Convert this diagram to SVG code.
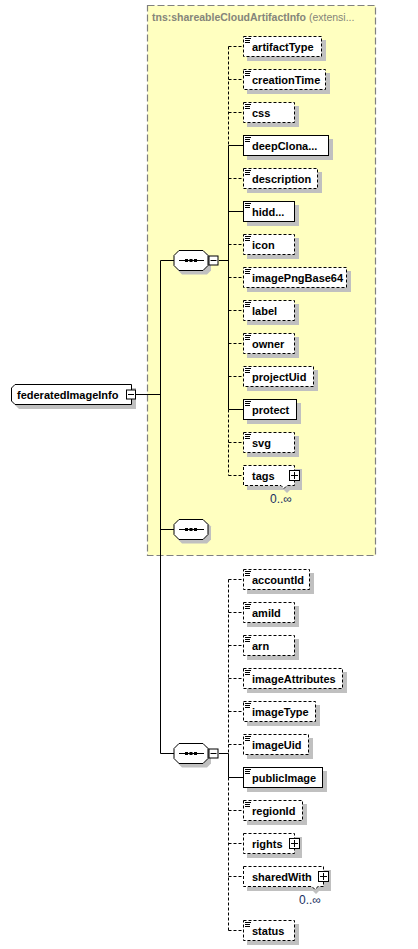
<svg xmlns="http://www.w3.org/2000/svg" width="418" height="949" viewBox="0 0 418 949">
<style>
.bg{fill:#ffffff}
.ext{fill:#ffffc0;stroke:#808080;stroke-width:1.2;stroke-dasharray:7,3}
.title{font-family:"Liberation Sans",Arial,sans-serif;font-size:10.5px;fill:#85857a}
.sh{fill:#c0c0c0}
.box{fill:#ffffff;stroke:#000;stroke-width:1}
.opt{stroke-dasharray:3,2}
.t{font-family:"Liberation Sans",Arial,sans-serif;font-size:11px;font-weight:bold;fill:#000}
.occ{font-family:"Liberation Sans",Arial,sans-serif;font-size:12px;fill:#203060}
.ln{stroke:#000;stroke-width:1;fill:none}
.dl{stroke:#000;stroke-width:1;fill:none;stroke-dasharray:3,2}
.ico{stroke:#000;stroke-width:1}
</style>
<defs>
<g id="doc"><path class="ico" d="M2,2.5H8M2,4.5H7M2,6.5H7"/></g>
<g id="minus"><rect x="0.5" y="0.5" width="9" height="9" class="box"/><path class="ico" d="M2,5H8"/></g>
<g id="plus"><rect x="0.5" y="0.5" width="10" height="10" class="box"/><path class="ico" d="M2,5.5H9M5.5,2V9"/></g>
<g id="seq">
<path class="sh" d="M182,-7H207L211,-3V10L207,14H182L178,10V-3Z"/>
<path class="box" d="M179,-10H203L208,-5V5L203,10H179L174,5V-5Z"/>
<path class="ico" d="M179,0H204"/>
<rect x="185" y="-1.5" width="3" height="3" fill="#000"/>
<rect x="189.5" y="-1.5" width="3" height="3" fill="#000"/>
<rect x="194" y="-1.5" width="3" height="3" fill="#000"/>
</g>
</defs>
<rect class="bg" x="0" y="0" width="418" height="949"/>
<g id="extension">
<rect class="ext" x="147.5" y="5.5" width="228" height="550"/>
<text class="title" x="152" y="21"><tspan font-weight="bold">tns:shareableCloudArtifactInfo</tspan> (extensi...</text>
</g>

<g id="connectors">
<path class="ln" d="M136,394.5H160.5M160.5,260.5V753.5M160.5,260.5H174M160.5,529.5H174M160.5,753.5H174M219,260.5H228.5M219,753.5H228.5"/>
<path class="dl" d="M228.5,46.5V145.5M228.5,409.5V475.5"/>
<path class="ln" d="M228.5,145.5V409.5"/>
<path class="dl" d="M228.5,46.5H243M228.5,79.5H243M228.5,112.5H243M228.5,178.5H243M228.5,244.5H243M228.5,277.5H243M228.5,310.5H243M228.5,343.5H243M228.5,376.5H243M228.5,442.5H243M228.5,475.5H243"/>
<path class="ln" d="M228.5,145.5H243M228.5,211.5H243M228.5,409.5H243"/>
<path class="dl" d="M228.5,579.5V753.5M228.5,777.5V930.5"/>
<path class="ln" d="M228.5,753.5V777.5M228.5,777.5H243"/>
<path class="dl" d="M228.5,579.5H243M228.5,612.5H243M228.5,645.5H243M228.5,678.5H243M228.5,711.5H243M228.5,744.5H243M228.5,810.5H243M228.5,843.5H243M228.5,876.5H243M228.5,930.5H243"/>
</g>

<g id="federatedImageInfo">
<path class="sh" d="M19,388H136V409H19L15,405V392Z"/>
<path class="box" d="M15,384.5H131.5V404.5H15L11.5,401V388Z"/>
<text class="t" x="17" y="398.5">federatedImageInfo</text>
<use href="#minus" x="126" y="389.5"/>
</g>

<g id="sequence1"><use href="#seq" y="260.5"/><use href="#minus" x="208.5" y="255.5"/></g>
<g id="sequence2"><use href="#seq" y="529.5"/></g>
<g id="sequence3"><use href="#seq" y="753.5"/><use href="#minus" x="208.5" y="748.5"/></g>

<g id="artifactType"><rect class="sh" x="247" y="40" width="79" height="21"/><rect class="box opt" x="243.5" y="36.5" width="78" height="20"/><use href="#doc" x="243" y="36"/><text class="t" x="252" y="51">artifactType</text></g>
<g id="creationTime"><rect class="sh" x="247" y="73" width="83" height="21"/><rect class="box opt" x="243.5" y="69.5" width="82" height="20"/><use href="#doc" x="243" y="69"/><text class="t" x="252" y="84">creationTime</text></g>
<g id="css"><rect class="sh" x="247" y="106" width="52" height="21"/><rect class="box opt" x="243.5" y="102.5" width="51" height="20"/><use href="#doc" x="243" y="102"/><text class="t" x="252" y="117">css</text></g>
<g id="deepClonable"><rect class="sh" x="247" y="139" width="86" height="21"/><rect class="box" x="243.5" y="135.5" width="85" height="20"/><use href="#doc" x="243" y="135"/><text class="t" x="252" y="150">deepClona...</text></g>
<g id="description"><rect class="sh" x="247" y="172" width="75" height="21"/><rect class="box opt" x="243.5" y="168.5" width="74" height="20"/><use href="#doc" x="243" y="168"/><text class="t" x="252" y="183">description</text></g>
<g id="hidden"><rect class="sh" x="247" y="205" width="52" height="21"/><rect class="box" x="243.5" y="201.5" width="51" height="20"/><use href="#doc" x="243" y="201"/><text class="t" x="252" y="216">hidd...</text></g>
<g id="icon"><rect class="sh" x="247" y="238" width="52" height="21"/><rect class="box opt" x="243.5" y="234.5" width="51" height="20"/><use href="#doc" x="243" y="234"/><text class="t" x="252" y="249">icon</text></g>
<g id="imagePngBase64"><rect class="sh" x="247" y="271" width="104" height="21"/><rect class="box opt" x="243.5" y="267.5" width="103" height="20"/><use href="#doc" x="243" y="267"/><text class="t" x="252" y="282">imagePngBase64</text></g>
<g id="label"><rect class="sh" x="247" y="304" width="52" height="21"/><rect class="box opt" x="243.5" y="300.5" width="51" height="20"/><use href="#doc" x="243" y="300"/><text class="t" x="252" y="315">label</text></g>
<g id="owner"><rect class="sh" x="247" y="337" width="52" height="21"/><rect class="box opt" x="243.5" y="333.5" width="51" height="20"/><use href="#doc" x="243" y="333"/><text class="t" x="252" y="348">owner</text></g>
<g id="projectUid"><rect class="sh" x="247" y="370" width="71" height="21"/><rect class="box opt" x="243.5" y="366.5" width="70" height="20"/><use href="#doc" x="243" y="366"/><text class="t" x="252" y="381">projectUid</text></g>
<g id="protect"><rect class="sh" x="247" y="403" width="54" height="21"/><rect class="box" x="243.5" y="399.5" width="53" height="20"/><use href="#doc" x="243" y="399"/><text class="t" x="252" y="414">protect</text></g>
<g id="svg"><rect class="sh" x="247" y="436" width="52" height="21"/><rect class="box opt" x="243.5" y="432.5" width="51" height="20"/><use href="#doc" x="243" y="432"/><text class="t" x="252" y="447">svg</text></g>
<g id="tags"><path class="sh" d="M247,469H302V490H290L287,493L284,490H247Z"/><path class="box opt" d="M243.5,465.5H294.5V485.5H287L284,488.5L281,485.5H243.5Z"/><use href="#plus" x="289" y="470"/><text class="t" x="252" y="480">tags</text><text class="occ" x="270" y="503">0..∞</text></g>

<g id="accountId"><rect class="sh" x="247" y="573" width="67" height="21"/><rect class="box opt" x="243.5" y="569.5" width="66" height="20"/><use href="#doc" x="243" y="569"/><text class="t" x="252" y="584">accountId</text></g>
<g id="amiId"><rect class="sh" x="247" y="606" width="52" height="21"/><rect class="box opt" x="243.5" y="602.5" width="51" height="20"/><use href="#doc" x="243" y="602"/><text class="t" x="252" y="617">amiId</text></g>
<g id="arn"><rect class="sh" x="247" y="639" width="52" height="21"/><rect class="box opt" x="243.5" y="635.5" width="51" height="20"/><use href="#doc" x="243" y="635"/><text class="t" x="252" y="650">arn</text></g>
<g id="imageAttributes"><rect class="sh" x="247" y="672" width="100" height="21"/><rect class="box opt" x="243.5" y="668.5" width="99" height="20"/><use href="#doc" x="243" y="668"/><text class="t" x="252" y="683">imageAttributes</text></g>
<g id="imageType"><rect class="sh" x="247" y="705" width="73" height="21"/><rect class="box opt" x="243.5" y="701.5" width="72" height="20"/><use href="#doc" x="243" y="701"/><text class="t" x="252" y="716">imageType</text></g>
<g id="imageUid"><rect class="sh" x="247" y="738" width="66" height="21"/><rect class="box opt" x="243.5" y="734.5" width="65" height="20"/><use href="#doc" x="243" y="734"/><text class="t" x="252" y="749">imageUid</text></g>
<g id="publicImage"><rect class="sh" x="247" y="771" width="80" height="21"/><rect class="box" x="243.5" y="767.5" width="79" height="20"/><use href="#doc" x="243" y="767"/><text class="t" x="252" y="782">publicImage</text></g>
<g id="regionId"><rect class="sh" x="247" y="804" width="60" height="21"/><rect class="box opt" x="243.5" y="800.5" width="59" height="20"/><use href="#doc" x="243" y="800"/><text class="t" x="252" y="815">regionId</text></g>
<g id="rights"><rect class="sh" x="247" y="837" width="55" height="21"/><rect class="box opt" x="243.5" y="833.5" width="51" height="20"/><use href="#plus" x="289" y="838"/><text class="t" x="252" y="848">rights</text></g>
<g id="sharedWith"><path class="sh" d="M247,870H331V891H319L316,894L313,891H247Z"/><path class="box opt" d="M243.5,866.5H323.5V886.5H318L315,889.5L312,886.5H243.5Z"/><use href="#plus" x="318" y="871"/><text class="t" x="252" y="881">sharedWith</text><text class="occ" x="299" y="904">0..∞</text></g>
<g id="status"><rect class="sh" x="247" y="924" width="52" height="21"/><rect class="box opt" x="243.5" y="920.5" width="51" height="20"/><use href="#doc" x="243" y="920"/><text class="t" x="252" y="935">status</text></g>
</svg>
